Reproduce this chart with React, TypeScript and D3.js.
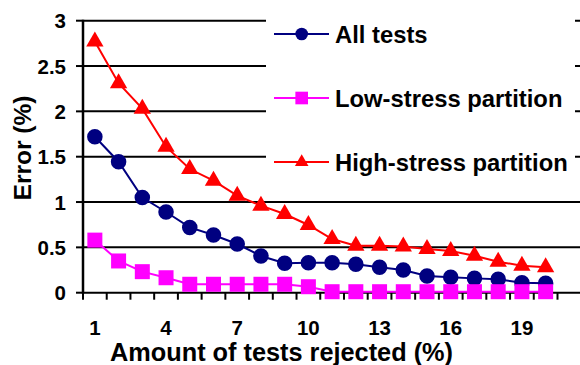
import * as d3 from 'd3';
import React from 'react';

// categories (% of tests rejected)
const rejected = d3.range(1, 21);
const tickLabels = [1, 4, 7, 10, 13, 16, 19];
const yTicks = [0, 0.5, 1, 1.5, 2, 2.5, 3];

// error (%) per series
const allTests = [1.72, 1.445, 1.05, 0.89, 0.72, 0.636, 0.537, 0.405, 0.324, 0.331, 0.33, 0.313, 0.28, 0.25, 0.184, 0.17, 0.158, 0.147, 0.11, 0.103];
const lowStress = [0.58, 0.35, 0.232, 0.165, 0.093, 0.093, 0.093, 0.093, 0.093, 0.066, 0.011, 0.011, 0.011, 0.011, 0.011, 0.011, 0.011, 0.011, 0.011, 0.011];
const highStress = [2.77, 2.31, 2.03, 1.61, 1.364, 1.235, 1.07, 0.96, 0.868, 0.747, 0.592, 0.518, 0.518, 0.51, 0.482, 0.46, 0.408, 0.342, 0.298, 0.28];

const seriesNames = ['All tests', 'Low-stress partition', 'High-stress partition'];
const seriesColors = ['#000080', '#FF00FF', '#FF0000'];

const font = '"Liberation Sans", Arial, sans-serif';

export default function App() {
    const width = 580;
    const height = 365;
    const left = 83, right = 557.5, top = 20.7, bottom = 292.7;

    const x = d3.scaleBand<number>().domain(rejected).range([left, right]).padding(0);
    const y = d3.scaleLinear().domain([0, 3]).range([bottom, top]);
    const cx = (d: number) => (x(d) as number) + x.bandwidth() / 2;

    const line = d3.line<number>()
        .x((d, i) => cx(rejected[i]))
        .y(d => y(d));

    const symbols = [
        d3.symbol().type(d3.symbolCircle).size(190),
        d3.symbol().type(d3.symbolSquare).size(225),
        d3.symbol().type(d3.symbolTriangle).size(130),
    ];
    const legendSymbols = [
        d3.symbol().type(d3.symbolCircle).size(125),
        d3.symbol().type(d3.symbolSquare).size(160),
        d3.symbol().type(d3.symbolTriangle).size(80),
    ];
    const data = [allTests, lowStress, highStress];
    const boundaries = [...rejected.map(d => x(d) as number), right];

    return (
        <svg width={width} height={height} style={{ position: 'absolute', left: 0, top: 0, background: '#fff' }} fontFamily={font} fontWeight="bold">
            {/* gridlines */}
            {yTicks.map(t => (
                <line key={'g' + t} x1={left} x2={width} y1={y(t)} y2={y(t)} stroke="#000" strokeWidth={2} />
            ))}
            {/* y axis */}
            <line x1={left} x2={left} y1={top - 1} y2={bottom + 1} stroke="#000" strokeWidth={2.5} />
            {yTicks.map(t => (
                <g key={'yt' + t}>
                    <line x1={left - 7} x2={left} y1={y(t)} y2={y(t)} stroke="#000" strokeWidth={2} />
                    <text x={66} y={y(t)} textAnchor="end" dominantBaseline="central" fontSize={20.5}>{t}</text>
                </g>
            ))}
            {/* x axis ticks */}
            {boundaries.map((b, i) => (
                <line key={'xt' + i} x1={b} x2={b} y1={bottom} y2={bottom + 7} stroke="#000" strokeWidth={2} />
            ))}
            {tickLabels.map(t => (
                <text key={'xl' + t} x={cx(t)} y={327} textAnchor="middle" dominantBaseline="central" fontSize={20.5}>{t}</text>
            ))}
            <text x={281.5} y={352} textAnchor="middle" dominantBaseline="central" fontSize={25.3}>Amount of tests rejected (%)</text>
            <text transform={`translate(22,148) rotate(-90)`} textAnchor="middle" dominantBaseline="central" fontSize={24.5}>Error (%)</text>

            {/* series */}
            {data.map((s, k) => (
                <g key={'s' + k}>
                    <path d={line(s) as string} fill="none" stroke={seriesColors[k]} strokeWidth={2} />
                    {s.map((v, i) => (
                        <path key={i} d={symbols[k]() as string} transform={`translate(${cx(rejected[i])},${y(v)})`} fill={seriesColors[k]} />
                    ))}
                </g>
            ))}

            {/* legend */}
            <rect x={266} y={6} width={309} height={180} fill="#fff" />
            {seriesNames.map((name, k) => {
                const ly = 34 + k * 64;
                return (
                    <g key={'l' + k}>
                        <line x1={274} x2={329} y1={ly} y2={ly} stroke={seriesColors[k]} strokeWidth={2} />
                        <path d={legendSymbols[k]() as string} transform={`translate(301.7,${ly})`} fill={seriesColors[k]} />
                        <text x={335} y={ly} dominantBaseline="central" fontSize={23.8}>{name}</text>
                    </g>
                );
            })}
        </svg>
    );
}
